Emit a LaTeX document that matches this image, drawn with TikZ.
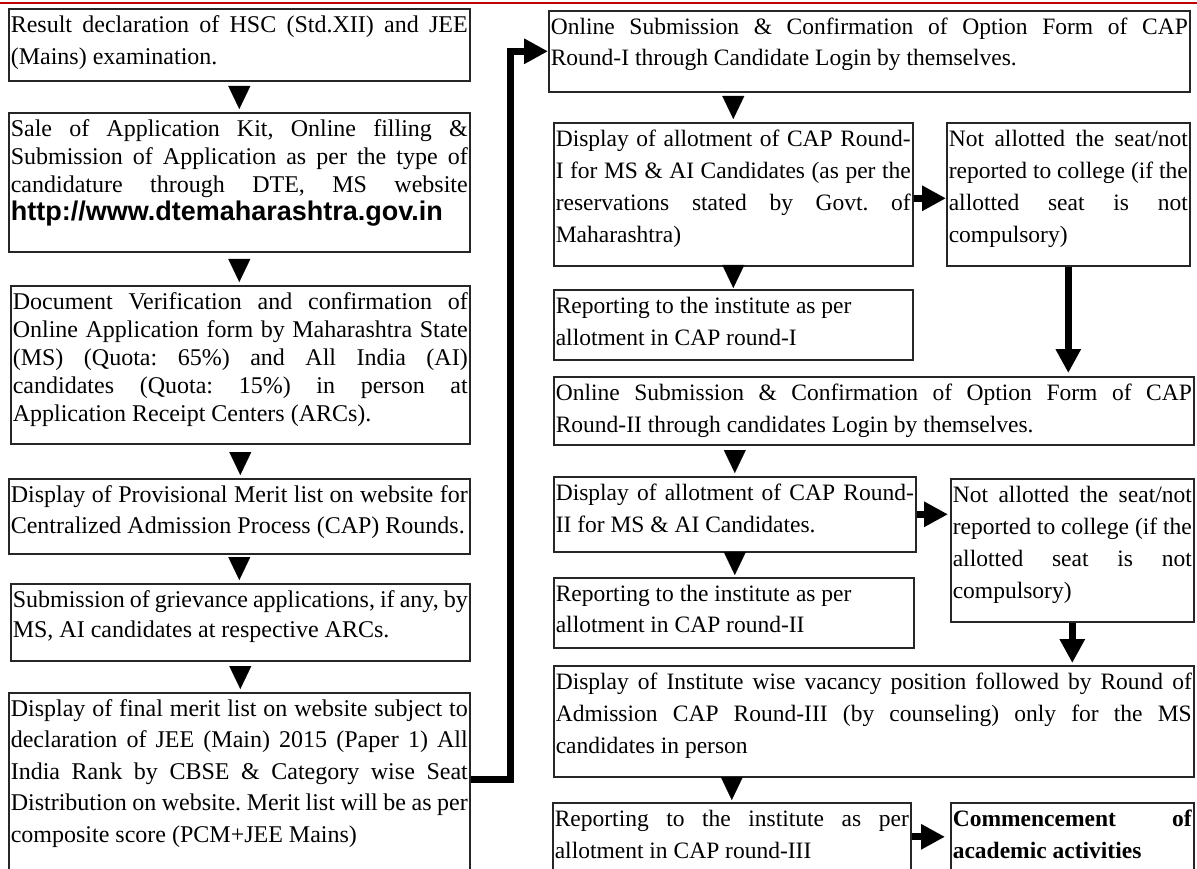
\documentclass[tikz,border=0pt]{standalone}
\usepackage{fontspec}
\setmainfont{Liberation Serif}
\newfontfamily\urlfamily{Liberation Sans}
\usetikzlibrary{arrows.meta}

\definecolor{rulered}{RGB}{192,0,0}
\newcommand{\stepsize}{24}
% box text: width, height, line spacing, text (top aligned, justified)
\newcommand{\steptext}[4]{\parbox[t][\dimexpr#2pt-3pt\relax][t]{\dimexpr#1pt-4pt\relax}{%
  \fontsize{\stepsize}{#3}\selectfont\frenchspacing\tolerance=10000\hbadness=10000
  \rule{0pt}{22pt}#4}}

\begin{document}
\begin{tikzpicture}[x=1pt, y=-1pt,
    stepbox/.style={draw=black!85, line width=1.6pt, anchor=north west,
        inner xsep=2pt, inner ysep=1.5pt},
    down/.style={-{Triangle[width=22pt,length=23pt]}, line width=0.1pt},
    fat/.style={line width=7pt, -{Triangle[width=24pt,length=24pt]}}
]
    \useasboundingbox (0,0) rectangle (1197,869);
    \clip (0,0) rectangle (1197,869);
    \draw[rulered, line width=2.5pt] (0,3) -- (1197,3);

    % left column
    \node[stepbox] (b1) at (8,8) {\steptext{461}{72}{32}{Result declaration of HSC (Std.XII) and JEE\linebreak (Mains) examination.}};
    \node[stepbox] (b2) at (8,112) {\steptext{461}{139}{28}{Sale of Application Kit, Online filling \&\linebreak Submission of Application as per the type of\linebreak candidature through DTE, MS website\linebreak {\urlfamily\bfseries\fontsize{27}{28}\selectfont http://www.dtemaharashtra.gov.in}}};
    \node[stepbox] (b3) at (10,285) {\steptext{459}{158}{28}{Document Verification and confirmation of\linebreak Online Application form by Maharashtra State\linebreak (MS) (Quota: 65\%) and All India (AI)\linebreak candidates (Quota: 15\%) in person at\linebreak Application Receipt Centers (ARCs).}};
    \node[stepbox] (b4) at (8,478) {\steptext{461}{75}{31}{Display of Provisional Merit list on website for\linebreak Centralized Admission Process (CAP) Rounds.}};
    \node[stepbox] (b5) at (10,583) {\steptext{459}{77}{30}{Submission of grievance applications, if any, by\linebreak MS, AI candidates at respective ARCs.}};
    \node[stepbox] (b6) at (8,692) {\steptext{461}{200}{31.5}{Display of final merit list on website subject to\linebreak declaration of JEE (Main) 2015 (Paper 1) All\linebreak India Rank by CBSE \& Category wise Seat\linebreak Distribution on website. Merit list will be as per\linebreak composite score (PCM+JEE Mains)}};

    % right column
    \renewcommand{\stepsize}{23.5}
    \node[stepbox] (r1) at (548,10) {\steptext{641}{81}{31}{Online Submission \& Confirmation of Option Form of CAP\linebreak Round-I through Candidate Login by themselves.}};
    \node[stepbox] (r2) at (553,122) {\steptext{359}{143}{32}{Display of allotment of CAP Round-\linebreak I for MS \& AI Candidates (as per the\linebreak reservations stated by Govt. of\linebreak Maharashtra)}};
    \node[stepbox] (r3) at (946,122) {\steptext{243}{143}{32}{Not allotted the seat/not\linebreak reported to college (if the\linebreak allotted seat is not\linebreak compulsory)}};
    \node[stepbox] (r4) at (553,289) {\steptext{359}{70}{32}{Reporting to the institute as per\newline allotment in CAP round-I}};
    \node[stepbox] (r5) at (553,376) {\steptext{640}{68}{32}{Online Submission \& Confirmation of Option Form of CAP\linebreak Round-II through candidates Login by themselves.}};
    \node[stepbox] (r6) at (553,476) {\steptext{362}{75}{32}{Display of allotment of CAP Round-\linebreak II for MS \& AI Candidates.}};
    \node[stepbox] (r7) at (950,478) {\steptext{243}{143}{32}{Not allotted the seat/not\linebreak reported to college (if the\linebreak allotted seat is not\linebreak compulsory)}};
    \node[stepbox] (r8) at (553,577) {\steptext{360}{70}{31}{Reporting to the institute as per\newline allotment in CAP round-II}};
    \node[stepbox] (r9) at (553,665) {\steptext{640}{111}{32}{Display of Institute wise vacancy position followed by Round of\linebreak Admission CAP Round-III (by counseling) only for the MS\linebreak candidates in person}};
    \node[stepbox] (r10) at (552,802) {\steptext{358}{68}{32}{Reporting to the institute as per\linebreak allotment in CAP round-III}};
    \node[stepbox] (r11) at (950,802) {\steptext{243}{100}{32}{\bfseries Commencement of\linebreak academic activities}};

    % small arrows
    \draw[down, shorten <=6pt, shorten >=3pt] (b1.south) -- (b1.south |- b2.north);
    \draw[down, shorten <=8pt, shorten >=3pt] (b2.south) -- (b2.south |- b3.north);
    \draw[down, shorten <=9pt, shorten >=3pt] (b3.south) -- (b3.south |- b4.north);
    \draw[down, shorten <=4pt, shorten >=3pt] (b4.south) -- (b4.south |- b5.north);
    \draw[down, shorten <=6pt, shorten >=3pt] (b5.south) -- (b5.south |- b6.north);
    \draw[down, shorten <=5pt, shorten >=3pt] (r2.north |- r1.south) -- (r2.north);
    \draw[down, shorten <=0pt, shorten >=1pt] (r2.south) -- (r2.south |- r4.north);
    \draw[down, shorten <=6pt, shorten >=3pt] (r6.north |- r5.south) -- (r6.north);
    \draw[down, shorten <=1pt, shorten >=2pt] (r6.south) -- (r6.south |- r8.north);
    \draw[down, shorten <=1pt, shorten >=2pt] (r10.north |- r9.south) -- (r10.north);

    % thick arrows
    \draw[fat, line join=miter] ([yshift=13pt]b6.east) -| ([xshift=-38pt]r1.west) -- (r1.west);
    \draw[fat] ([yshift=-4pt]r2.east) -- ([yshift=-4pt]r3.west);
    \draw[fat, shorten >=3pt] (r3.south) -- (r3.south |- r5.north);
    \draw[fat, shorten >=2pt] (r6.east) -- (r6.east -| r7.west);
    \draw[fat, shorten >=2pt] (r7.south) -- (r7.south |- r9.north);
    \draw[fat, shorten >=5pt] (r10.east) -- (r10.east -| r11.west);
\end{tikzpicture}
\end{document}
